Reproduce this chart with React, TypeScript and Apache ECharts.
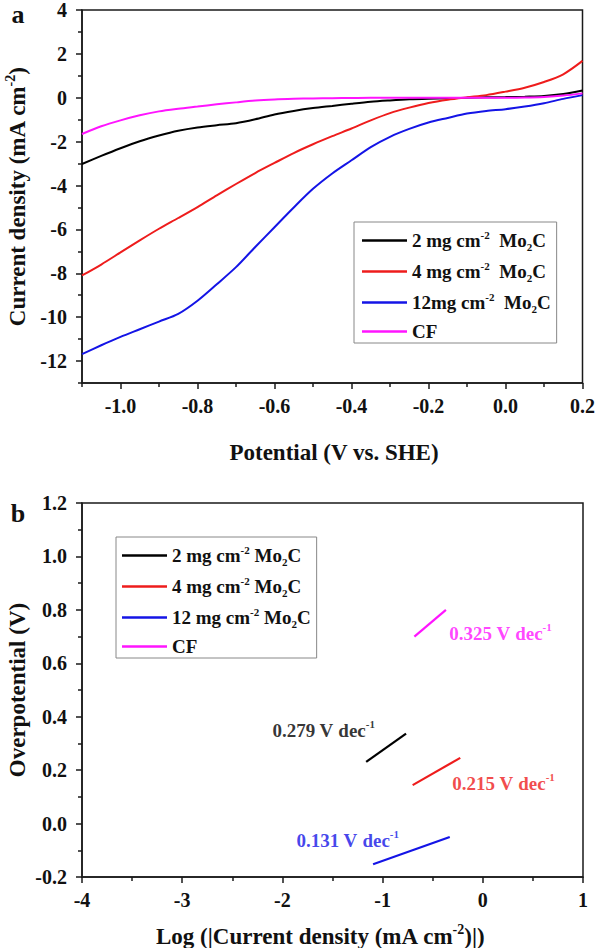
import React, { useEffect, useRef } from "react";
import * as echarts from "echarts";

// ---------- Panel a: polarization curves ----------
const potential = [
  -1.1, -1.05, -1.0, -0.95, -0.9, -0.85, -0.8, -0.75, -0.7, -0.65, -0.6, -0.55, -0.5, -0.45,
  -0.4, -0.35, -0.3, -0.25, -0.2, -0.15, -0.1, -0.05, 0.0, 0.05, 0.1, 0.15, 0.2,
];
const j2mg = [
  -3.02, -2.65, -2.3, -1.98, -1.72, -1.5, -1.35, -1.25, -1.16, -0.98, -0.76, -0.6, -0.47, -0.37,
  -0.27, -0.18, -0.12, -0.07, -0.04, -0.02, 0.0, 0.02, 0.03, 0.05, 0.08, 0.17, 0.33,
];
const j4mg = [
  -8.1, -7.6, -7.05, -6.5, -5.97, -5.48, -4.98, -4.45, -3.93, -3.43, -2.97, -2.52, -2.12, -1.75,
  -1.4, -1.03, -0.7, -0.45, -0.24, -0.09, 0.02, 0.12, 0.28, 0.46, 0.72, 1.07, 1.68,
];
const j12mg = [
  -11.68, -11.28, -10.9, -10.55, -10.2, -9.85, -9.25, -8.5, -7.72, -6.8, -5.9, -5.0, -4.15, -3.45,
  -2.85, -2.25, -1.78, -1.42, -1.13, -0.92, -0.72, -0.6, -0.52, -0.4, -0.25, -0.05, 0.12,
];
const jCF = [
  -1.65, -1.3, -1.03, -0.8, -0.62, -0.5, -0.4, -0.3, -0.21, -0.13, -0.08, -0.05, -0.03, -0.02,
  -0.01, 0.0, 0.0, 0.0, 0.0, 0.0, 0.0, 0.0, 0.0, 0.01, 0.04, 0.1, 0.2,
];
const seriesNamesA = ["2 mg cm-2  Mo2C", "4 mg cm-2  Mo2C", "12mg cm-2  Mo2C", "CF"];
const xTicksA = [-1.0, -0.8, -0.6, -0.4, -0.2, 0.0, 0.2];
const xMinorA = [-1.1, -0.9, -0.7, -0.5, -0.3, -0.1, 0.1];
const yTicksA = [-12, -10, -8, -6, -4, -2, 0, 2, 4];
const yMinorA = [-13, -11, -9, -7, -5, -3, -1, 1, 3];

// ---------- Panel b: Tafel plots ----------
const seriesNamesB = ["2 mg cm-2 Mo2C", "4 mg cm-2 Mo2C", "12 mg cm-2 Mo2C", "CF"];
const tafelLogJ = [
  [-1.164, -0.766],
  [-0.7, -0.225],
  [-1.095, -0.33],
  [-0.683, -0.368],
];
const tafelEta = [
  [0.231, 0.337],
  [0.144, 0.246],
  [-0.152, -0.05],
  [0.7, 0.8],
];
const slopeLabels = ["0.279 V dec-1", "0.215 V dec-1", "0.131 V dec-1", "0.325 V dec-1"];
const slopeLabelLogJ = [-2.1, -0.305, -1.86, -0.335];
const slopeLabelEta = [0.35, 0.151, -0.062, 0.713];

const colors = ["#000000", "#ee1c1c", "#1414e6", "#ff14ff"];

const FONT = "Liberation Serif";

function richify(s: string): string {
  const re = /(cm-2|Mo2C|dec-1)/g;
  const parts = s.split(re);
  let out = "";
  for (const p of parts) {
    if (!p) continue;
    if (p === "cm-2") out += "{m|cm}{sup|-2}";
    else if (p === "dec-1") out += "{m|dec}{sup|-1}";
    else if (p === "Mo2C") out += "{m|Mo}{sub|2}{m|C}";
    else out += "{m|" + p + "}";
  }
  return out;
}

function richStyles(size: number, color?: string) {
  const base: any = { fontFamily: FONT, fontWeight: "bold" };
  if (color) base.color = color;
  const lh = Math.round(size * 1.2);
  const small = Math.round(size * 0.6);
  return {
    m: { ...base, fontSize: size, lineHeight: lh, verticalAlign: "middle" },
    sup: { ...base, fontSize: small, lineHeight: small + 1, verticalAlign: "top" },
    sub: { ...base, fontSize: small, lineHeight: small + 1, verticalAlign: "bottom" },
  };
}

const axisColor = "#1a1a1a";
const tickLabel = { fontFamily: FONT, fontWeight: "bold", fontSize: 20, color: "#111" };

export default function App() {
  const ref = useRef<HTMLDivElement>(null);
  useEffect(() => {
    if (!ref.current) return;
    const chart = echarts.init(ref.current, undefined, { renderer: "svg" });

    const gridA = { left: 82, top: 9, width: 501, height: 374 };
    const gridB = { left: 82, top: 503, width: 501, height: 374 };

    const seriesA = [j2mg, j4mg, j12mg, jCF].map((arr, k) => ({
      name: seriesNamesA[k],
      type: "line",
      xAxisIndex: 0,
      yAxisIndex: 0,
      symbol: "none",
      smooth: 0.3,
      data: potential.map((p, i) => [p, arr[i]]),
      lineStyle: { color: colors[k], width: 2 },
      itemStyle: { color: colors[k] },
      z: 3,
    }));

    const seriesB = tafelLogJ.map((xs, k) => ({
      name: seriesNamesB[k],
      type: "line",
      xAxisIndex: 2,
      yAxisIndex: 2,
      symbol: "none",
      data: xs.map((x, i) => [x, tafelEta[k][i]]),
      lineStyle: { color: colors[k], width: 2.2 },
      itemStyle: { color: colors[k] },
      z: 3,
    }));

    const annotation = {
      name: "slopes",
      type: "scatter",
      xAxisIndex: 2,
      yAxisIndex: 2,
      symbolSize: 0,
      silent: true,
      data: slopeLabels.map((t, k) => ({
        value: [slopeLabelLogJ[k], slopeLabelEta[k]],
        label: {
          show: true,
          position: "right",
          distance: 0,
          formatter: richify(t),
          rich: richStyles(19, colors[k]),
        },
      })),
    };

    const legendBase = {
      orient: "vertical",
      icon: "rect",
      itemWidth: 45,
      itemHeight: 2.5,
      itemGap: 8,
      borderColor: "#888",
      borderWidth: 1,
      backgroundColor: "#fff",
      formatter: (name: string) => richify(name),
      textStyle: { rich: richStyles(19, "#111"), fontFamily: FONT, fontWeight: "bold", fontSize: 19 },
      selectedMode: false,
    };

    const gtext = (text: string, x: number, y: number, size: number, rotation = 0) => ({
      type: "text",
      x,
      y,
      rotation,
      style: {
        text: richify(text),
        rich: richStyles(size, "#111"),
        align: "center",
        verticalAlign: "middle",
        fill: "#111",
      },
    });

    chart.setOption({
      animation: false,
      backgroundColor: "#ffffff",
      textStyle: { fontFamily: FONT, fontWeight: "bold" },
      grid: [
        { ...gridA, show: true, borderColor: axisColor, borderWidth: 1.5, backgroundColor: "transparent" },
        { ...gridB, show: true, borderColor: axisColor, borderWidth: 1.5, backgroundColor: "transparent" },
      ],
      xAxis: [
        {
          gridIndex: 0,
          type: "value",
          min: -1.1,
          max: 0.2,
          position: "bottom",
          axisLine: { onZero: false, lineStyle: { color: axisColor, width: 1.5 } },
          axisTick: { show: true, inside: false, length: 6, customValues: xTicksA, lineStyle: { color: axisColor, width: 1.5 } },
          axisLabel: { ...tickLabel, margin: 13, customValues: xTicksA, formatter: (v: number) => v.toFixed(1) },
          splitLine: { show: false },
        },
        {
          gridIndex: 0,
          type: "value",
          min: -1.1,
          max: 0.2,
          position: "bottom",
          axisLine: { show: false, onZero: false },
          axisTick: { show: true, inside: false, length: 4, customValues: xMinorA, lineStyle: { color: axisColor, width: 1.5 } },
          axisLabel: { show: false },
          splitLine: { show: false },
        },
        {
          gridIndex: 1,
          type: "value",
          min: -4,
          max: 1,
          interval: 1,
          position: "bottom",
          axisLine: { onZero: false, lineStyle: { color: axisColor, width: 1.5 } },
          axisTick: { show: true, inside: false, length: 6, lineStyle: { color: axisColor, width: 1.5 } },
          minorTick: { show: true, splitNumber: 2, length: 4, lineStyle: { color: axisColor, width: 1.5 } },
          axisLabel: { ...tickLabel, margin: 13, formatter: (v: number) => String(Math.round(v)) },
          splitLine: { show: false },
          minorSplitLine: { show: false },
        },
      ],
      yAxis: [
        {
          gridIndex: 0,
          type: "value",
          min: -13,
          max: 4,
          position: "left",
          axisLine: { onZero: false, lineStyle: { color: axisColor, width: 1.5 } },
          axisTick: { show: true, inside: false, length: 6, customValues: yTicksA, lineStyle: { color: axisColor, width: 1.5 } },
          axisLabel: { ...tickLabel, margin: 15, customValues: yTicksA, formatter: (v: number) => String(v) },
          splitLine: { show: false },
        },
        {
          gridIndex: 0,
          type: "value",
          min: -13,
          max: 4,
          position: "left",
          axisLine: { show: false, onZero: false },
          axisTick: { show: true, inside: false, length: 4, customValues: yMinorA, lineStyle: { color: axisColor, width: 1.5 } },
          axisLabel: { show: false },
          splitLine: { show: false },
        },
        {
          gridIndex: 1,
          type: "value",
          min: -0.2,
          max: 1.2,
          interval: 0.2,
          position: "left",
          axisLine: { onZero: false, lineStyle: { color: axisColor, width: 1.5 } },
          axisTick: { show: true, inside: false, length: 6, lineStyle: { color: axisColor, width: 1.5 } },
          minorTick: { show: true, splitNumber: 2, length: 4, lineStyle: { color: axisColor, width: 1.5 } },
          axisLabel: { ...tickLabel, margin: 15, formatter: (v: number) => v.toFixed(1) },
          splitLine: { show: false },
          minorSplitLine: { show: false },
        },
      ],
      legend: [
        { ...legendBase, data: seriesNamesA, left: 354, top: 222, padding: [7, 6, 2, 8] },
        { ...legendBase, data: seriesNamesB, left: 116, top: 537, padding: [7, 6, 2, 6] },
      ],
      graphic: [
        {
          type: "text",
          x: 18,
          y: 14,
          style: { text: "a", fontFamily: FONT, fontWeight: "bold", fontSize: 26, fill: "#111", align: "center", verticalAlign: "middle" },
        },
        {
          type: "text",
          x: 18,
          y: 513,
          style: { text: "b", fontFamily: FONT, fontWeight: "bold", fontSize: 26, fill: "#111", align: "center", verticalAlign: "middle" },
        },
        gtext("Current density (mA cm-2)", 17, 197, 23, Math.PI / 2),
        gtext("Potential (V vs. SHE)", 334, 452, 23),
        gtext("Overpotential (V)", 17, 690, 23, Math.PI / 2),
        gtext("Log (|Current density (mA cm-2)|)", 320, 936, 23),
      ],
      series: [...seriesA, ...seriesB, annotation],
    });

    return () => chart.dispose();
  }, []);

  return (
    <div
      ref={ref}
      style={{ position: "absolute", left: 0, top: 0, width: 598, height: 948, background: "#fff" }}
    />
  );
}
